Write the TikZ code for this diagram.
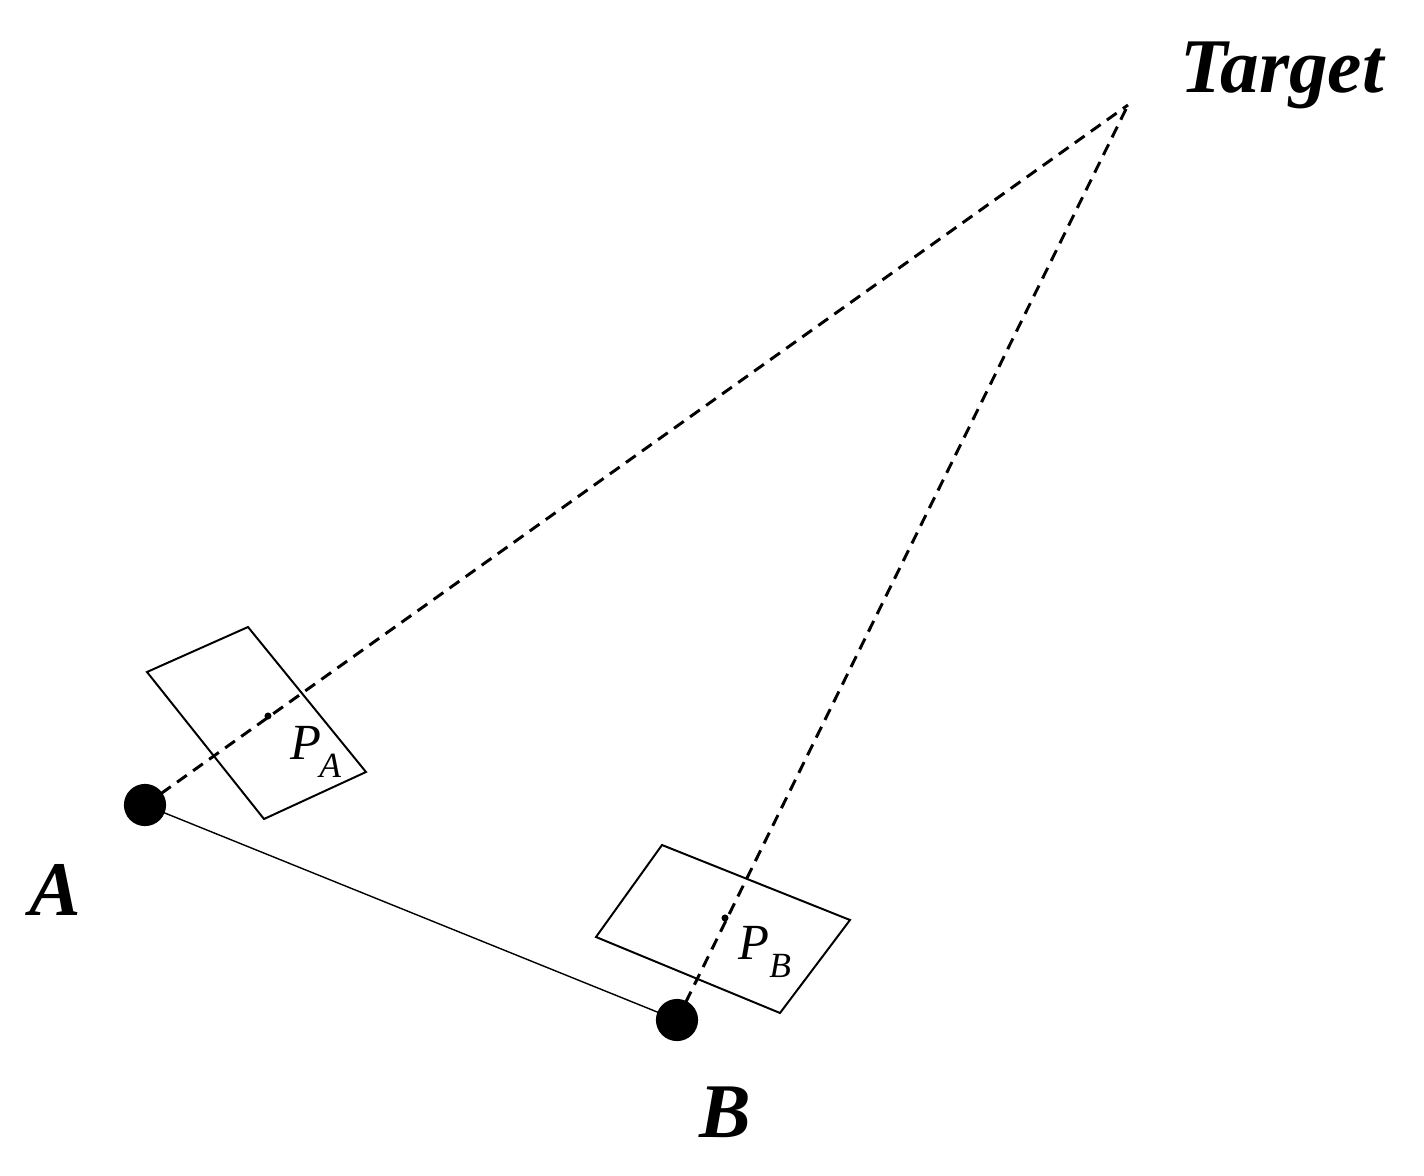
\documentclass[tikz,border=0pt]{standalone}
\usepackage{fontspec}
\setmainfont{Liberation Serif}
\begin{document}
\begin{tikzpicture}[x=0.05cm,y=-0.05cm,
  dashln/.style={line width=4.2pt,dash pattern=on 17pt off 11pt},
  box/.style={line width=2.8pt},
  big/.style={font=\fontsize{110}{120}\selectfont\bfseries\itshape},
  pl/.style={font=\fontsize{72}{80}\selectfont\itshape},
  dot/.style={circle,fill=black,inner sep=0pt,minimum size=60pt}]
\useasboundingbox (0,0) rectangle (1424,1176);
\coordinate (T) at (1128,105);
\node[dot] (A) at (145,805) {};
\node[dot] (B) at (677,1020) {};
\node[circle,fill=black,inner sep=0pt,minimum size=10pt] (PA) at (268,716) {};
\node[circle,fill=black,inner sep=0pt,minimum size=10pt] (PB) at (725,918) {};
\draw[box] (147,672) -- (248,627) -- (366,772) -- (264,819) -- cycle;
\draw[box] (596,937) -- (662,845) -- (850,920) -- (780,1013) -- cycle;
\draw[dashln] (A.center) -- (T);
\draw[dashln] (B.center) -- (T);
\draw[line width=2pt] (A.center) -- (B.center);
\node[big] (tl) at (1282,75) {Target};
\node[big] (al) at (55,890) {A};
\node[big] (bl) at (725,1112) {B};
\node[pl] (pal) at (316,752) {P\textsubscript{\kern-3pt A}};
\node[pl] (pbl) at (765,952) {P\textsubscript{B}};
\end{tikzpicture}
\end{document}
